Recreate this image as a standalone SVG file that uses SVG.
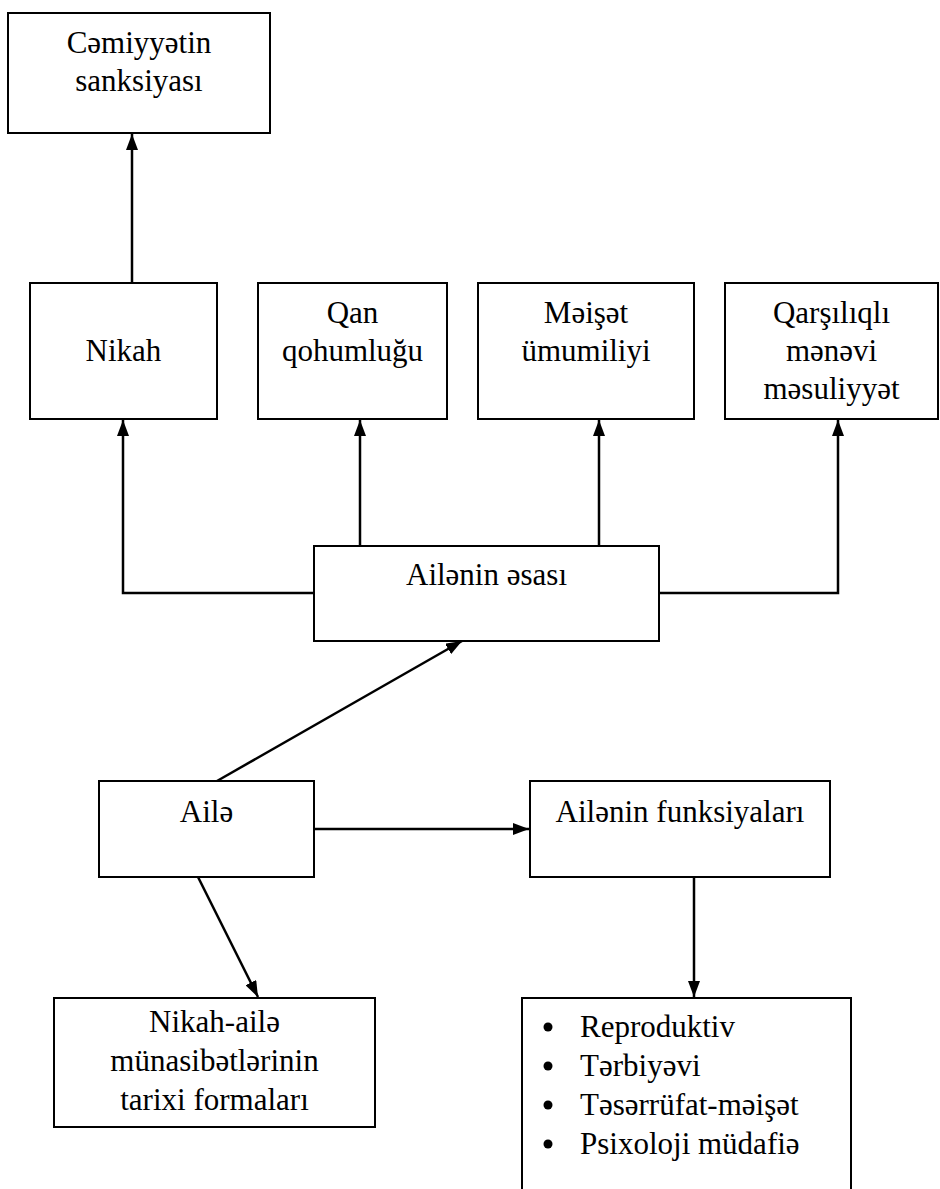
<svg xmlns="http://www.w3.org/2000/svg" width="940" height="1189" viewBox="0 0 940 1189">
<defs>
<marker id="arr" viewBox="0 0 16 12" refX="16" refY="6" markerWidth="16" markerHeight="12" markerUnits="userSpaceOnUse" orient="auto">
<path d="M0,0 L16,6 L0,12 z" fill="#000"/>
</marker>
</defs>
<style>
.box{fill:#fff;stroke:#000;stroke-width:2}
.t{font-family:"Liberation Serif","Times New Roman",serif;font-size:31px;fill:#000;text-anchor:middle}
.l{font-family:"Liberation Serif","Times New Roman",serif;font-size:31px;fill:#000}
.c{fill:none;stroke:#000;stroke-width:2.5;marker-end:url(#arr)}
</style>
<rect width="940" height="1189" fill="#fff"/>
<g id="connectors">
<path class="c" d="M132,283 L132,134"/>
<path class="c" d="M314,593 L123,593 L123,420"/>
<path class="c" d="M360,546 L360,420"/>
<path class="c" d="M599,546 L599,420"/>
<path class="c" d="M659,593 L838,593 L838,420"/>
<path class="c" d="M217,781 L462,641"/>
<path class="c" d="M314,829 L529,829"/>
<path class="c" d="M198,877 L258,997"/>
<path class="c" d="M694,877 L694,997"/>
</g>
<g id="n-sanksiya">
<rect class="box" x="8" y="13" width="262" height="120"/>
<text class="t" x="139" y="53">Cəmiyyətin</text>
<text class="t" x="139" y="91">sanksiyası</text>
</g>
<g id="n-nikah">
<rect class="box" x="30" y="283" width="187" height="136"/>
<text class="t" x="123.5" y="361">Nikah</text>
</g>
<g id="n-qan">
<rect class="box" x="258" y="283" width="189" height="136"/>
<text class="t" x="352.5" y="323">Qan</text>
<text class="t" x="352.5" y="361">qohumluğu</text>
</g>
<g id="n-meiset">
<rect class="box" x="478" y="283" width="216" height="136"/>
<text class="t" x="586" y="323">Məişət</text>
<text class="t" x="586" y="361">ümumiliyi</text>
</g>
<g id="n-qarsiliqli">
<rect class="box" x="725" y="283" width="213" height="136"/>
<text class="t" x="831.5" y="323">Qarşılıqlı</text>
<text class="t" x="831.5" y="361">mənəvi</text>
<text class="t" x="831.5" y="399">məsuliyyət</text>
</g>
<g id="n-esasi">
<rect class="box" x="314" y="546" width="345" height="95"/>
<text class="t" x="486.5" y="585">Ailənin əsası</text>
</g>
<g id="n-aile">
<rect class="box" x="99" y="781" width="215" height="96"/>
<text class="t" x="206.5" y="822">Ailə</text>
</g>
<g id="n-funksiya">
<rect class="box" x="530" y="781" width="300" height="96"/>
<text class="t" x="680" y="822">Ailənin funksiyaları</text>
</g>
<g id="n-tarixi">
<rect class="box" x="54" y="998" width="321" height="129"/>
<text class="t" x="214.5" y="1032">Nikah-ailə</text>
<text class="t" x="214.5" y="1071">münasibətlərinin</text>
<text class="t" x="214.5" y="1110">tarixi formaları</text>
</g>
<g id="n-list">
<rect class="box" x="522" y="998" width="329" height="200"/>
<circle cx="548" cy="1027" r="4.5"/>
<circle cx="548" cy="1066" r="4.5"/>
<circle cx="548" cy="1105" r="4.5"/>
<circle cx="548" cy="1144" r="4.5"/>
<text class="l" x="580" y="1037">Reproduktiv</text>
<text class="l" x="580" y="1076">Tərbiyəvi</text>
<text class="l" x="580" y="1115">Təsərrüfat-məişət</text>
<text class="l" x="580" y="1154">Psixoloji müdafiə</text>
</g>
</svg>
